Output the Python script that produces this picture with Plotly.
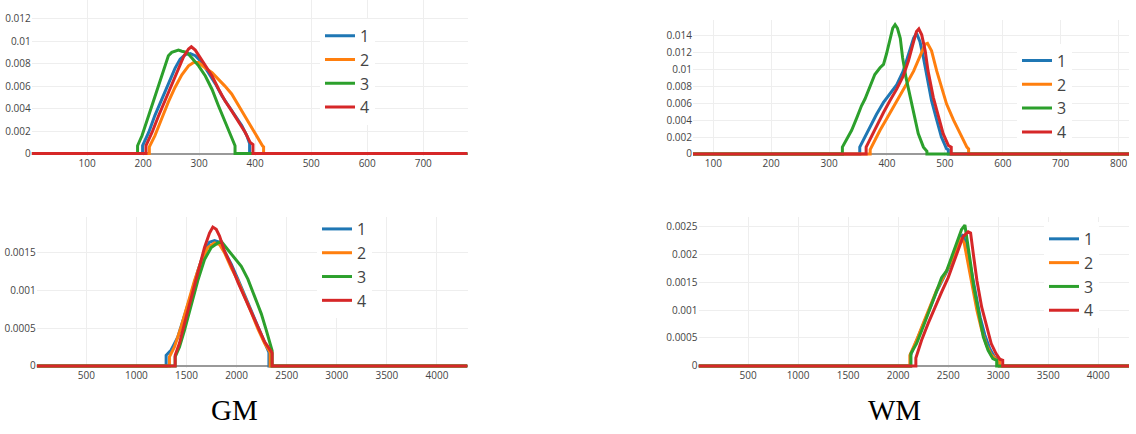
import plotly.graph_objects as go

# ---- series names and colours ----
names = ["1", "2", "3", "4"]
colors = ["#1f77b4", "#ff7f0e", "#2ca02c", "#d62728"]

# ---- GM, small scale (top left) ----
tl_x1 = [1, 199, 199, 210, 221, 233, 245, 257, 266, 275, 284, 293, 305, 317, 329, 341, 352, 364, 376, 385, 390, 390, 779]
tl_y1 = [0, 0, 0.0007, 0.0019, 0.0034, 0.0048, 0.0063, 0.0076, 0.0084, 0.0088, 0.0089, 0.0087, 0.0081, 0.0072, 0.0062,
         0.0051, 0.0043, 0.0034, 0.0025, 0.0016, 0.0009, 0, 0]
tl_x2 = [1, 211, 211, 221, 233, 245, 257, 269, 281, 290, 299, 311, 323, 335, 346, 358, 370, 382, 394, 406, 413, 415, 415, 779]
tl_y2 = [0, 0, 0.0006, 0.0016, 0.0031, 0.0046, 0.0059, 0.0070, 0.0078, 0.0081, 0.0081, 0.0076, 0.0072, 0.0066, 0.0060,
         0.0053, 0.0043, 0.0032, 0.0022, 0.0013, 0.0007, 0.0006, 0, 0]
tl_x3 = [1, 190, 190, 198, 210, 221, 233, 245, 251, 263, 269, 278, 287, 299, 311, 323, 334, 346, 358, 364, 364, 779]
tl_y3 = [0, 0, 0.0007, 0.0016, 0.0034, 0.0051, 0.0069, 0.0087, 0.0090, 0.0092, 0.0091, 0.0090, 0.0085, 0.0078, 0.0069,
         0.0057, 0.0043, 0.0028, 0.0013, 0.0007, 0, 0]
tl_x4 = [1, 205, 205, 216, 227, 239, 251, 263, 272, 281, 286, 293, 302, 311, 323, 335, 346, 358, 370, 382, 391, 396, 396, 779]
tl_y4 = [0, 0, 0.0007, 0.0019, 0.0033, 0.0047, 0.0062, 0.0076, 0.0086, 0.0093, 0.0095, 0.0092, 0.0085, 0.0079, 0.0069,
         0.0057, 0.0047, 0.0038, 0.0029, 0.0019, 0.0010, 0.0008, 0, 0]

# ---- WM, small scale (top right) ----
tr_x1 = [65, 353, 353, 359, 371, 382, 394, 405, 417, 428, 437, 446, 451, 457, 463, 469, 477, 486, 494, 503, 506, 506, 818]
tr_y1 = [0, 0, 0.0008, 0.0016, 0.0031, 0.0047, 0.0061, 0.0071, 0.0082, 0.0098, 0.0118, 0.0137, 0.0143, 0.0133, 0.0114,
         0.0090, 0.0063, 0.0040, 0.0020, 0.0006, 0.0005, 0, 0]
tr_x2 = [65, 371, 371, 376, 388, 399, 411, 423, 434, 446, 457, 466, 470, 477, 486, 494, 503, 515, 526, 538, 541, 541, 818]
tr_y2 = [0, 0, 0.0005, 0.0012, 0.0028, 0.0041, 0.0055, 0.0069, 0.0083, 0.0098, 0.0116, 0.0130, 0.0131, 0.0122, 0.0098,
         0.0079, 0.0059, 0.0040, 0.0024, 0.0008, 0.0006, 0, 0]
tr_x3 = [65, 323, 323, 330, 339, 348, 356, 362, 371, 379, 388, 394, 399, 405, 410, 414, 418, 423, 427, 433, 439, 446,
         454, 463, 469, 469, 818]
tr_y3 = [0, 0, 0.0008, 0.0016, 0.0028, 0.0043, 0.0057, 0.0065, 0.0081, 0.0094, 0.0102, 0.0106, 0.0118, 0.0137, 0.0149,
         0.0153, 0.0149, 0.0137, 0.0114, 0.0090, 0.0071, 0.0047, 0.0024, 0.0008, 0.0003, 0, 0]
tr_x4 = [65, 364, 364, 371, 382, 394, 405, 417, 428, 437, 446, 451, 455, 460, 466, 471, 480, 489, 497, 506, 511, 511, 818]
tr_y4 = [0, 0, 0.0008, 0.0018, 0.0033, 0.0049, 0.0063, 0.0077, 0.0092, 0.0110, 0.0133, 0.0145, 0.0148, 0.0141, 0.0122,
         0.0098, 0.0067, 0.0043, 0.0024, 0.0010, 0.0008, 0, 0]

# ---- GM, large scale (bottom left) ----
bl_x1 = [5, 1297, 1297, 1347, 1413, 1480, 1547, 1613, 1680, 1730, 1780, 1830, 1880, 1947, 2013, 2080, 2147, 2213, 2280,
         2320, 2323, 2323, 4305]
bl_y1 = [0, 0, 0.00014, 0.00021, 0.00038, 0.00065, 0.00095, 0.00126, 0.00152, 0.00164, 0.00166, 0.00164, 0.00152,
         0.00135, 0.00115, 0.00095, 0.00073, 0.00052, 0.00030, 0.00019, 0.00018, 0, 0]
bl_x2 = [5, 1330, 1330, 1380, 1447, 1513, 1580, 1647, 1713, 1780, 1830, 1880, 1947, 2013, 2080, 2147, 2213, 2280, 2330,
         2335, 2335, 4305]
bl_y2 = [0, 0, 0.00012, 0.00025, 0.00052, 0.00082, 0.00113, 0.00139, 0.00157, 0.00163, 0.00161, 0.00150, 0.00130,
         0.00113, 0.00093, 0.00071, 0.00049, 0.00030, 0.00019, 0.00017, 0, 0]
bl_x3 = [5, 1387, 1387, 1430, 1480, 1547, 1613, 1680, 1747, 1813, 1847, 1913, 1980, 2047, 2113, 2180, 2247, 2297, 2347,
         2355, 2355, 4305]
bl_y3 = [0, 0, 0.00012, 0.00025, 0.00047, 0.00080, 0.00113, 0.00141, 0.00157, 0.00163, 0.00165, 0.00154, 0.00143,
         0.00132, 0.00115, 0.00093, 0.00069, 0.00047, 0.00023, 0.00020, 0, 0]
bl_x4 = [5, 1387, 1387, 1430, 1480, 1547, 1613, 1680, 1730, 1763, 1797, 1830, 1880, 1947, 2013, 2080, 2147, 2213, 2280,
         2347, 2355, 2355, 4305]
bl_y4 = [0, 0, 0.00014, 0.00030, 0.00056, 0.00091, 0.00126, 0.00157, 0.00176, 0.00184, 0.00181, 0.00172, 0.00152,
         0.00133, 0.00111, 0.00091, 0.00071, 0.00052, 0.00032, 0.00019, 0.00017, 0, 0]

# ---- WM, large scale (bottom right) ----
br_x1 = [5, 2125, 2125, 2184, 2250, 2317, 2384, 2450, 2517, 2584, 2614, 2650, 2677, 2725, 2772, 2820, 2867, 2915, 2962,
         3005, 3010, 3010, 4307]
br_y1 = [0, 0, 0.00019, 0.00044, 0.00074, 0.00103, 0.00133, 0.00157, 0.00180, 0.00210, 0.00228, 0.00235, 0.00217,
         0.00176, 0.00129, 0.00087, 0.00055, 0.00031, 0.00016, 0.00010, 0.00010, 0, 0]
br_x2 = [5, 2117, 2117, 2184, 2250, 2317, 2384, 2450, 2517, 2584, 2634, 2660, 2693, 2741, 2788, 2835, 2883, 2930, 2990,
         3015, 3015, 4307]
br_y2 = [0, 0, 0.00019, 0.00046, 0.00076, 0.00105, 0.00135, 0.00158, 0.00182, 0.00211, 0.00229, 0.00220, 0.00188,
         0.00141, 0.00099, 0.00064, 0.00037, 0.00020, 0.00010, 0.00010, 0, 0]
br_x3 = [5, 2127, 2127, 2184, 2250, 2317, 2384, 2434, 2484, 2534, 2584, 2634, 2667, 2693, 2725, 2756, 2804, 2851, 2899,
         2946, 2985, 2985, 4307]
br_y3 = [0, 0, 0.00022, 0.00040, 0.00070, 0.00102, 0.00135, 0.00158, 0.00170, 0.00194, 0.00217, 0.00244, 0.00252,
         0.00223, 0.00182, 0.00141, 0.00093, 0.00052, 0.00028, 0.00013, 0.00010, 0, 0]
br_x4 = [5, 2177, 2177, 2234, 2300, 2367, 2434, 2500, 2550, 2600, 2650, 2700, 2724, 2756, 2788, 2835, 2883, 2930, 2978,
         3016, 3045, 3045, 4307]
br_y4 = [0, 0, 0.00014, 0.00046, 0.00076, 0.00105, 0.00132, 0.00158, 0.00182, 0.00208, 0.00232, 0.00240, 0.00238,
         0.00194, 0.00152, 0.00105, 0.00070, 0.00040, 0.00022, 0.00012, 0.00010, 0, 0]

# ---- column titles ----
column_titles = ["GM", "WM"]

W, H = 1136, 434

panels = [
    # (xaxis id, yaxis id, legend id, xs, ys)
    ("x", "y", "legend", [tl_x1, tl_x2, tl_x3, tl_x4], [tl_y1, tl_y2, tl_y3, tl_y4]),
    ("x2", "y2", "legend2", [tr_x1, tr_x2, tr_x3, tr_x4], [tr_y1, tr_y2, tr_y3, tr_y4]),
    ("x3", "y3", "legend3", [bl_x1, bl_x2, bl_x3, bl_x4], [bl_y1, bl_y2, bl_y3, bl_y4]),
    ("x4", "y4", "legend4", [br_x1, br_x2, br_x3, br_x4], [br_y1, br_y2, br_y3, br_y4]),
]

fig = go.Figure()
for xa, ya, lg, xs, ys in panels:
    for name, color, xv, yv in zip(names, colors, xs, ys):
        fig.add_trace(go.Scatter(
            x=xv, y=yv, name=name, mode="lines",
            line=dict(color=color, width=3),
            xaxis=xa, yaxis=ya, legend=lg,
        ))


def px_x(p):
    return p / W


def px_y(p):
    return 1 - p / H


tick_font = dict(family="Open Sans, sans-serif", size=10, color="#444")
grid = dict(showgrid=True, gridcolor="#eee", gridwidth=1, showline=False,
            ticks="", tickfont=tick_font, exponentformat="none")

layout = dict(
    width=W, height=H,
    margin=dict(l=0, r=0, t=0, b=0),
    paper_bgcolor="white", plot_bgcolor="white",
    showlegend=True,
    font=dict(family="Open Sans, sans-serif", color="#444"),
)

# plot-area boxes in pixels: (left, right, top, bottom)
boxes = {
    "1": (31.7, 467.5, 0, 157.5),
    "2": (693, 1129, 20, 157.8),
    "3": (36.7, 467.5, 219.3, 371.8),
    "4": (698.5, 1129, 219, 371.8),
}
xranges = {"1": [1, 779], "2": [65, 818], "3": [5, 4305], "4": [5, 4307]}
yranges = {"1": [-0.00022, 0.013656], "2": [-0.00029, 0.01588],
           "3": [-0.0000328, 0.00197], "4": [-0.0000443, 0.002665]}
xdticks = {"1": 100, "2": 100, "3": 500, "4": 500}
ydticks = {"1": 0.002, "2": 0.002, "3": 0.0005, "4": 0.0005}

for k in ["1", "2", "3", "4"]:
    l, r, t, b = boxes[k]
    suffix = "" if k == "1" else k
    layout["xaxis" + suffix] = dict(
        grid, domain=[px_x(l), px_x(r)], range=xranges[k], tick0=0, dtick=xdticks[k],
        zeroline=False, anchor="y" + suffix,
    )
    layout["yaxis" + suffix] = dict(
        grid, domain=[px_y(b), px_y(t)], range=yranges[k], tick0=0, dtick=ydticks[k],
        zeroline=True, zerolinecolor="#999", zerolinewidth=1.5, anchor="x" + suffix,
    )

legend_font = dict(family="Open Sans, sans-serif", size=16, color="#444")
legend_pos = {
    "legend": (320, 19),
    "legend2": (1017, 44),
    "legend3": (317, 214),
    "legend4": (1044, 224),
}
for lg, (lx, ly) in legend_pos.items():
    layout[lg] = dict(
        x=px_x(lx), y=px_y(ly), xanchor="left", yanchor="top",
        bgcolor="white", borderwidth=0, font=legend_font,
        tracegroupgap=0,
    )

fig.update_layout(**layout)

# column titles under the bottom panels
title_pos = [(234, 414), (894, 414)]
for text, (cx, cy) in zip(column_titles, title_pos):
    fig.add_annotation(
        text=text, x=px_x(cx), y=px_y(cy), xref="paper", yref="paper",
        xanchor="center", yanchor="middle", showarrow=False,
        font=dict(family="Liberation Serif, serif", size=29, color="#000"),
    )

fig.write_html("out.html")
